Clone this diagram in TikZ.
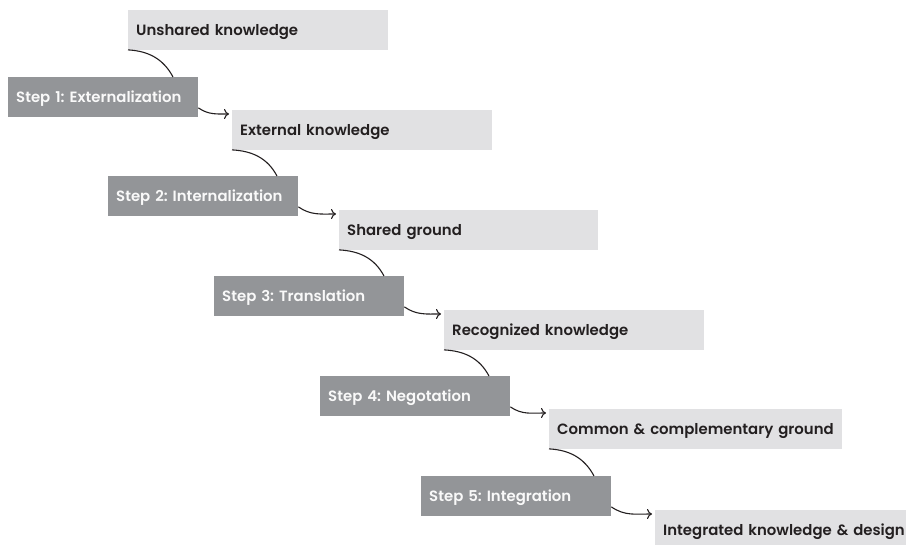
\documentclass[tikz,border=0pt]{standalone}
\usepackage{fontspec}
\newfontfamily\labelfont{Poppins SemiBold}
\usetikzlibrary{calc,arrows.meta}
\definecolor{lightbox}{HTML}{E1E1E3}
\definecolor{darkbox}{HTML}{939598}
\definecolor{ink}{HTML}{231F20}
\frenchspacing
\begin{document}
\begin{tikzpicture}[x=1pt,y=1pt,
  base/.style={anchor=north west, minimum height=39.5pt, inner xsep=8pt, inner ysep=0pt,
    align=left, text height=11.5pt, text depth=1pt,
    font=\labelfont\fontsize{14.9}{17}\selectfont},
  lbox/.style={base, fill=lightbox, text=ink, text width=244pt},
  dbox/.style={base, fill=darkbox, text=white!94!darkbox, text width=174pt},
  link/.style={draw=ink, line width=1.1pt},
  arr/.style={link, -{To[length=5pt,width=10pt]}}]
\useasboundingbox (0,0) rectangle (906,545);
\node[lbox] (l1) at (128,535) {Unshared knowledge};
\node[lbox] (l2) at (232,435) {External knowledge};
\node[lbox, text width=243pt] (l3) at (339,335) {Shared ground};
\node[lbox] (l4) at (444,235) {Recognized knowledge};
\node[lbox, text width=277pt] (l5) at (549,136) {Common \& complementary ground};
\node[lbox] (l6) at (655,35) {Integrated knowledge \& design};
\node[dbox] (s1) at (8,468) {Step 1: Externalization};
\node[dbox] (s2) at (108,369) {Step 2: Internalization};
\node[dbox] (s3) at (214,269) {Step 3: Translation};
\node[dbox] (s4) at (320,169) {Step 4: Negotation};
\node[dbox] (s5) at (421,69) {Step 5: Integration};
\foreach \i/\j in {1/2,2/3,3/4,4/5,5/6}{
  \coordinate (c\i) at ($(l\i.south west)+(45pt,0)$);
  \draw[link] (l\i.south west) to[out=-3, in=118] (c\i |- s\i.north);
  \draw[arr] ($(s\i.south east)+(0,9pt)$) to[out=-35, in=180] ($(l\j.north west)+(-3pt,-4pt)$);
}
\end{tikzpicture}
\end{document}
